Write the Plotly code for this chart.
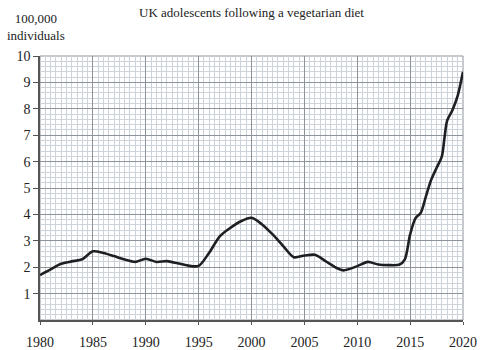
import plotly.graph_objects as go

# Adolescents following a vegetarian diet, in units of 100,000
years = [1980, 1981, 1982, 1983, 1984, 1985, 1986, 1987, 1988, 1989,
         1990, 1991, 1992, 1993, 1994, 1995, 1996, 1997, 1998, 1999,
         2000, 2001, 2002, 2003, 2004, 2005, 2006, 2007, 2008, 2008.7,
         2010, 2011, 2012, 2013, 2014, 2014.5, 2015, 2015.5, 2016, 2016.5,
         2017, 2017.5, 2018, 2018.25, 2018.5, 2019, 2019.5, 2020]
values = [1.7, 1.92, 2.13, 2.22, 2.3, 2.6, 2.54, 2.42, 2.29, 2.2,
          2.32, 2.2, 2.23, 2.15, 2.06, 2.05, 2.55, 3.17, 3.49, 3.74,
          3.87, 3.62, 3.24, 2.8, 2.38, 2.44, 2.47, 2.23, 1.98, 1.88,
          2.04, 2.2, 2.1, 2.08, 2.1, 2.3, 3.24, 3.85, 4.06, 4.69,
          5.32, 5.76, 6.2, 6.9, 7.55, 7.95, 8.5, 9.4]

x_ticks = [1980, 1985, 1990, 1995, 2000, 2005, 2010, 2015, 2020]
y_ticks = [1, 2, 3, 4, 5, 6, 7, 8, 9, 10]

serif = "Liberation Serif"
minor_col = "#ccd3db"
major_col = "#8c939b"

fig = go.Figure()
fig.add_trace(go.Scatter(
    x=years, y=values, mode="lines",
    line=dict(color="#1e1f22", width=2.6, shape="spline", smoothing=0.8),
    hoverinfo="skip", showlegend=False,
))

fig.update_layout(
    width=491, height=350,
    margin=dict(l=40, r=28, t=56, b=30, autoexpand=False),
    paper_bgcolor="white", plot_bgcolor="white",
    font=dict(family=serif, size=13, color="#222"),
    title=dict(text="UK adolescents following a vegetarian diet",
               x=0.5, xanchor="center", y=0.965, yanchor="middle",
               xref="paper",
               font=dict(family=serif, size=13, color="#222")),
    annotations=[dict(text="100,000<br>individuals", x=-0.01, y=1.0,
                      yshift=11,
                      xref="paper", yref="paper", xanchor="center",
                      yanchor="bottom", showarrow=False, align="center",
                      font=dict(family=serif, size=13, color="#222"))],
)

fig.update_xaxes(
    range=[1980, 2020], tickvals=x_ticks, ticktext=[str(t) for t in x_ticks],
    showgrid=True, gridcolor=major_col, gridwidth=1,
    minor=dict(dtick=0.5, tick0=1980, showgrid=True, gridcolor=minor_col, gridwidth=1),
    showline=True, linecolor="#555", linewidth=1.5, mirror=False,
    ticks="outside", ticklen=3, tickcolor="#555", ticklabelstandoff=5,
    automargin=False,
    zeroline=False, fixedrange=True, tickfont=dict(size=14),
)
fig.update_yaxes(
    range=[0, 10], tickvals=y_ticks, ticktext=[str(t) for t in y_ticks],
    showgrid=True, gridcolor=major_col, gridwidth=1,
    minor=dict(dtick=0.2, tick0=0, showgrid=True, gridcolor=minor_col, gridwidth=1),
    showline=True, linecolor="#555", linewidth=1.5, mirror=False,
    ticks="outside", ticklen=5, tickcolor="#555",
    automargin=False,
    zeroline=False, fixedrange=True, tickfont=dict(size=14),
)

# light frame on the right and top of the grid
fig.add_shape(type="rect", xref="paper", yref="paper", x0=0, y0=0, x1=1, y1=1,
              line=dict(color=major_col, width=1), layer="below")

fig.write_html("out.html")
